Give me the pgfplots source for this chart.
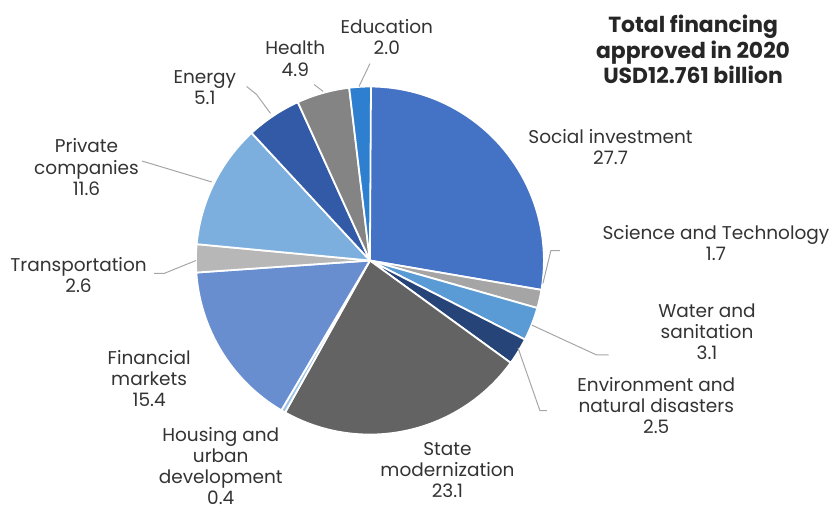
\documentclass[border=0pt]{standalone}
\usepackage{pgfplots}
\pgfplotsset{compat=1.18}
\usepackage{pgfplotstable}
\usepackage{fontspec}
\setmainfont{Poppins}

\definecolor{social}{HTML}{4472C4}
\definecolor{science}{HTML}{A5A5A5}
\definecolor{water}{HTML}{5B9BD5}
\definecolor{environ}{HTML}{264478}
\definecolor{state}{HTML}{636363}
\definecolor{housing}{HTML}{9DC3E6}
\definecolor{finance}{HTML}{698ED0}
\definecolor{transport}{HTML}{B7B7B7}
\definecolor{private}{HTML}{7CAFDD}
\definecolor{energy}{HTML}{335AA6}
\definecolor{health}{HTML}{848484}
\definecolor{educ}{HTML}{2F7FD0}
\definecolor{txt}{HTML}{333333}
\definecolor{leader}{HTML}{A6A6A6}

% share of total financing (%), clockwise from 12 o'clock
\pgfplotstableread{
value col
27.7 social
1.7  science
3.1  water
2.5  environ
23.1 state
0.4  housing
15.4 finance
2.6  transport
11.6 private
5.1  energy
4.9  health
2.0  educ
}\piedata

\begin{document}
\begin{tikzpicture}[font=\fontsize{9.3}{10.6}\selectfont, every node/.style={text=txt, align=center}]
\begin{axis}[
  scale only axis,
  width=418pt, height=255.5pt,
  xmin=0, xmax=836, ymin=0, ymax=511,
  y dir=reverse,
  hide axis,
  clip=false,
]
\path (axis cs:0,0) rectangle (axis cs:836,511);

\pgfplotstablegetrowsof{\piedata}
\pgfmathtruncatemacro\lastrow{\pgfplotsretval-1}
\def\angstart{90}
\pgfplotsforeachungrouped \i in {0,...,\lastrow} {
  \pgfplotstablegetelem{\i}{value}\of\piedata \let\val\pgfplotsretval
  \pgfplotstablegetelem{\i}{col}\of\piedata \let\col\pgfplotsretval
  \pgfmathsetmacro\angend{\angstart-3.6*\val}
  \edef\temp{\noexpand\fill[\col, draw=white, line width=0.9pt, line join=round]
    (axis cs:372,262) -- ++(\angstart:87.5pt)
    arc[start angle=\angstart, end angle=\angend, radius=87.5pt] -- cycle;}
  \temp
  \let\angstart\angend
}

% leader lines
\draw[leader, line width=0.5pt] (axis cs:361,87) -- (axis cs:372,64);
\draw[leader, line width=0.5pt] (axis cs:325,92) -- (axis cs:316,85);
\draw[leader, line width=0.5pt] (axis cs:248,87) -- (axis cs:258,95) -- (axis cs:272,114);
\draw[leader, line width=0.5pt] (axis cs:143,162) -- (axis cs:213,183);
\draw[leader, line width=0.5pt] (axis cs:155,275) -- (axis cs:165,275) -- (axis cs:197,262);
\draw[leader, line width=0.5pt] (axis cs:563,252) -- (axis cs:554,252) -- (axis cs:546,285);
\draw[leader, line width=0.5pt] (axis cs:535,327) -- (axis cs:600,357) -- (axis cs:612,357);
\draw[leader, line width=0.5pt] (axis cs:521,350) -- (axis cs:543,413) -- (axis cs:550,413);

% labels
\node at (axis cs:389,37) {Education\\2.0};
\node at (axis cs:297,59) {Health\\4.9};
\node at (axis cs:206,88) {Energy\\5.1};
\node at (axis cs:87,168) {Private\\companies\\11.6};
\node at (axis cs:79,277) {Transportation\\2.6};
\node at (axis cs:150,381) {Financial\\markets\\15.4};
\node at (axis cs:222,469) {Housing and\\urban\\development\\0.4};
\node at (axis cs:450,473) {State\\modernization\\23.1};
\node at (axis cs:660,408) {Environment and\\natural disasters\\2.5};
\node at (axis cs:711,334) {Water and\\sanitation\\3.1};
\node at (axis cs:720,244) {Science and Technology\\1.7};
\node at (axis cs:614,148) {Social investment\\27.7};
\node[font=\fontsize{11}{11}\selectfont\bfseries, text=black!85] at (axis cs:697,50)
  {Total financing\\approved in 2020\\USD12.761 billion};
\end{axis}
\end{tikzpicture}
\end{document}
